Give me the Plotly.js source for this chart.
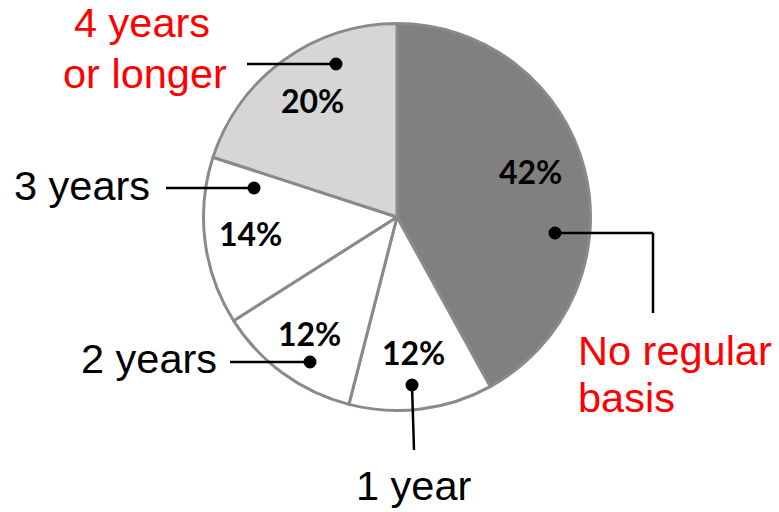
<!DOCTYPE html>
<html>
<head>
<meta charset="utf-8">
<script src="https://cdn.plot.ly/plotly-3.0.1.min.js"></script>
<style>html,body{margin:0;padding:0;background:#fff;}#chart{width:779px;height:512px;}</style>
</head>
<body>
<div id="chart"></div>
<script>
// Data
const categories = ["No regular basis", "1 year", "2 years", "3 years", "4 years or longer"];
const values = [42, 12, 12, 14, 20];
const labelLines = [["No regular", "basis"], ["1 year"], ["2 years"], ["3 years"], ["4 years", "or longer"]];

// Styles
const sliceColors = ["#808080", "#ffffff", "#ffffff", "#ffffff", "#d6d6d6"];
const labelColors = ["#ff0000", "#000000", "#000000", "#000000", "#ff0000"];
const W = 779, H = 512;
const cx = 397, cy = 217, R = 193.5;

// Layout positions (pixels)
const pctPos = [[530, 171], [414, 352], [309, 333], [251, 233], [312, 100]];
const dotPos = [[555, 233], [412, 385], [310, 362], [254, 188], [336, 64]];
const leaderPaths = [
  [[555, 233], [653, 233], [653, 313]],
  [[412, 385], [414, 450]],
  [[310, 362], [230, 362]],
  [[254, 188], [166, 188]],
  [[336, 64], [247, 64]]
];
const labelBaseY = [[365, 412], [500], [373], [200], [37, 88]];
const labelAnchorX = [["left", "left"], ["center"], ["center"], ["center"], ["center", "center"]];
const labelX = [[576, 576], [414], [149], [82], [142, 145]];

const px = x => x / W;
const py = y => 1 - y / H;

const trace = {
  type: 'pie',
  labels: categories,
  values: values,
  sort: false,
  direction: 'clockwise',
  rotation: 0,
  textinfo: 'none',
  hoverinfo: 'none',
  showlegend: false,
  marker: { colors: sliceColors, line: { color: '#8a8a8a', width: 3 } },
  domain: { x: [px(cx - R), px(cx + R)], y: [py(cy + R), py(cy - R)] }
};

const shapes = [];
const annotations = [];
values.forEach((v, i) => {
  const path = leaderPaths[i];
  for (let k = 0; k < path.length - 1; k++) {
    shapes.push({ type: 'line', xref: 'paper', yref: 'paper',
      x0: px(path[k][0]), y0: py(path[k][1]), x1: px(path[k + 1][0]), y1: py(path[k + 1][1]),
      line: { color: '#000', width: 2.5 } });
  }
  const r = 6.5, d = dotPos[i];
  shapes.push({ type: 'circle', xref: 'paper', yref: 'paper',
    x0: px(d[0] - r), x1: px(d[0] + r), y0: py(d[1] + r), y1: py(d[1] - r),
    fillcolor: '#000', line: { color: '#000', width: 0 } });
  annotations.push({ xref: 'paper', yref: 'paper', x: px(pctPos[i][0]), y: py(pctPos[i][1]),
    text: '<b>' + Math.round(v) + '%</b>', showarrow: false, xanchor: 'center', yanchor: 'middle',
    font: { family: 'Lato, Liberation Sans, sans-serif', size: 32, color: '#000', weight: 900 } });
  labelLines[i].forEach((t, j) => {
    const baseY = labelBaseY[i][j];
    annotations.push({ xref: 'paper', yref: 'paper', x: px(labelX[i][j]), y: py(baseY - 14.5),
      text: t, showarrow: false, xanchor: labelAnchorX[i][j], yanchor: 'middle',
      font: { family: 'Liberation Sans, Arial, sans-serif', size: 41.5, color: labelColors[i] } });
  });
});

const layout = {
  width: W, height: H,
  margin: { l: 0, r: 0, t: 0, b: 0 },
  paper_bgcolor: '#fff', plot_bgcolor: '#fff',
  shapes: shapes, annotations: annotations
};
Plotly.newPlot('chart', [trace], layout, { displayModeBar: false, staticPlot: true });
</script>
</body>
</html>
